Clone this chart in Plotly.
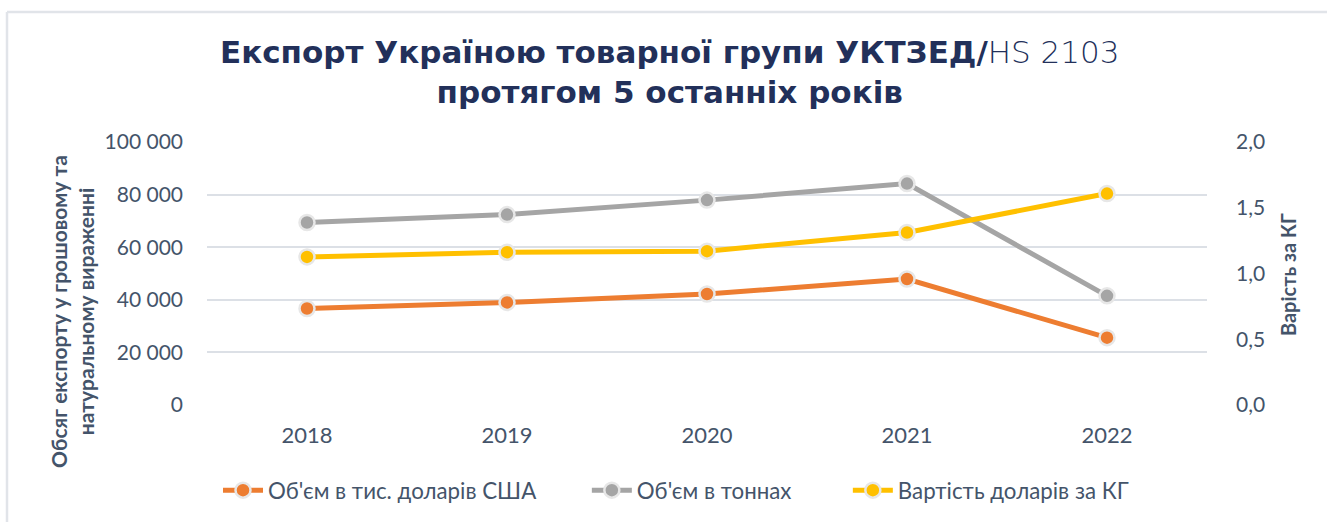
import plotly.graph_objects as go

years = ["2018", "2019", "2020", "2021", "2022"]
value_usd_thousand = [36700, 39000, 42200, 47900, 25600]
volume_tonnes = [69400, 72400, 77900, 84200, 41500]
price_usd_per_kg = [1.126, 1.162, 1.17, 1.312, 1.608]

left_ticks = [0, 20000, 40000, 60000, 80000, 100000]
left_labels = ["0", "20 000", "40 000", "60 000", "80 000", "100 000"]
right_ticks = [0, 0.5, 1.0, 1.5, 2.0]
right_labels = ["0,0", "0,5", "1,0", "1,5", "2,0"]

names = ["Об'єм в тис. доларів США", "Об'єм в тоннах", "Вартість доларів за КГ"]
colors = ["#ED7D31", "#A5A5A5", "#FFC000"]

TICK = "#44546A"
FONT = "Lato, 'Open Sans', sans-serif"
pads = ["\u00a0" * 8, "\u00a0" * 9, ""]

fig = go.Figure()
series = [(value_usd_thousand, "y"), (volume_tonnes, "y"), (price_usd_per_kg, "y2")]
for (vals, ax), name, c, pad in zip(series, names, colors, pads):
    fig.add_trace(go.Scatter(
        x=years, y=vals, name=name + pad, yaxis=ax, mode="lines+markers",
        line=dict(color=c, width=5),
        marker=dict(size=15, color=c, line=dict(color="#E7E7E7", width=2.5)),
    ))

fig.update_layout(
    width=1327, height=522,
    paper_bgcolor="white", plot_bgcolor="white",
    margin=dict(l=207, r=120, t=142, b=117),
    font=dict(family=FONT, color=TICK, size=21),
    showlegend=True,
    xaxis=dict(
        type="category", range=[-0.5, 4.5],
        showgrid=False, showline=False, zeroline=False, ticks="",
        ticklabelstandoff=15,
        tickfont=dict(size=22, color=TICK), automargin=False,
    ),
    yaxis=dict(
        range=[0, 100000], tickvals=left_ticks, ticktext=left_labels,
        showgrid=True, gridcolor="#DCE0E6", gridwidth=2, zeroline=False,
        ticks="", ticklabelstandoff=23, tickfont=dict(size=21, color=TICK),
        automargin=False,
    ),
    yaxis2=dict(
        range=[0, 2.0], tickvals=right_ticks, ticktext=right_labels,
        overlaying="y", side="right", showgrid=False, zeroline=False,
        ticks="", ticklabelstandoff=28, tickfont=dict(size=21, color=TICK),
        automargin=False,
    ),
    legend=dict(
        orientation="h", xref="paper", x=0.469, xanchor="center",
        yref="container", y=0.061, yanchor="middle",
        font=dict(size=22.3, color=TICK), itemwidth=40,
        traceorder="normal",
    ),
    annotations=[
        dict(text="<b>Експорт Україною товарної групи УКТЗЕД/</b><span style='font-weight:200'>HS 2103</span><br><b>протягом 5 останніх років</b>",
             xref="paper", yref="paper", x=0.463, y=1.265, xanchor="center", yanchor="middle",
             showarrow=False, align="center",
             font=dict(family="'DejaVu Sans', sans-serif", size=31, color="#22305A")),
        dict(text="<b>Обсяг експорту у грошовому та<br>натуральному вираженні</b>",
             xref="paper", yref="paper", x=-0.135, y=0.354, xanchor="center", yanchor="middle",
             textangle=-90, showarrow=False, align="center",
             font=dict(size=21, color=TICK)),
        dict(text="<b>Варість за КГ</b>",
             xref="paper", yref="paper", x=1.081, y=0.494, xanchor="center", yanchor="middle",
             textangle=-90, showarrow=False,
             font=dict(size=20, color=TICK)),
    ],
    shapes=[
        dict(type="line", xref="paper", yref="paper", x0=-0.2, x1=1.2, y0=1.494, y1=1.494,
             line=dict(color="#E1E4E9", width=2.5)),
        dict(type="line", xref="paper", yref="paper", x0=-0.2, x1=-0.2, y0=1.494, y1=-0.5,
             line=dict(color="#E1E4E9", width=2.5)),
    ],
)

fig.write_html("out.html", config={"displayModeBar": False},
               post_script="document.body.style.margin='0px';")
